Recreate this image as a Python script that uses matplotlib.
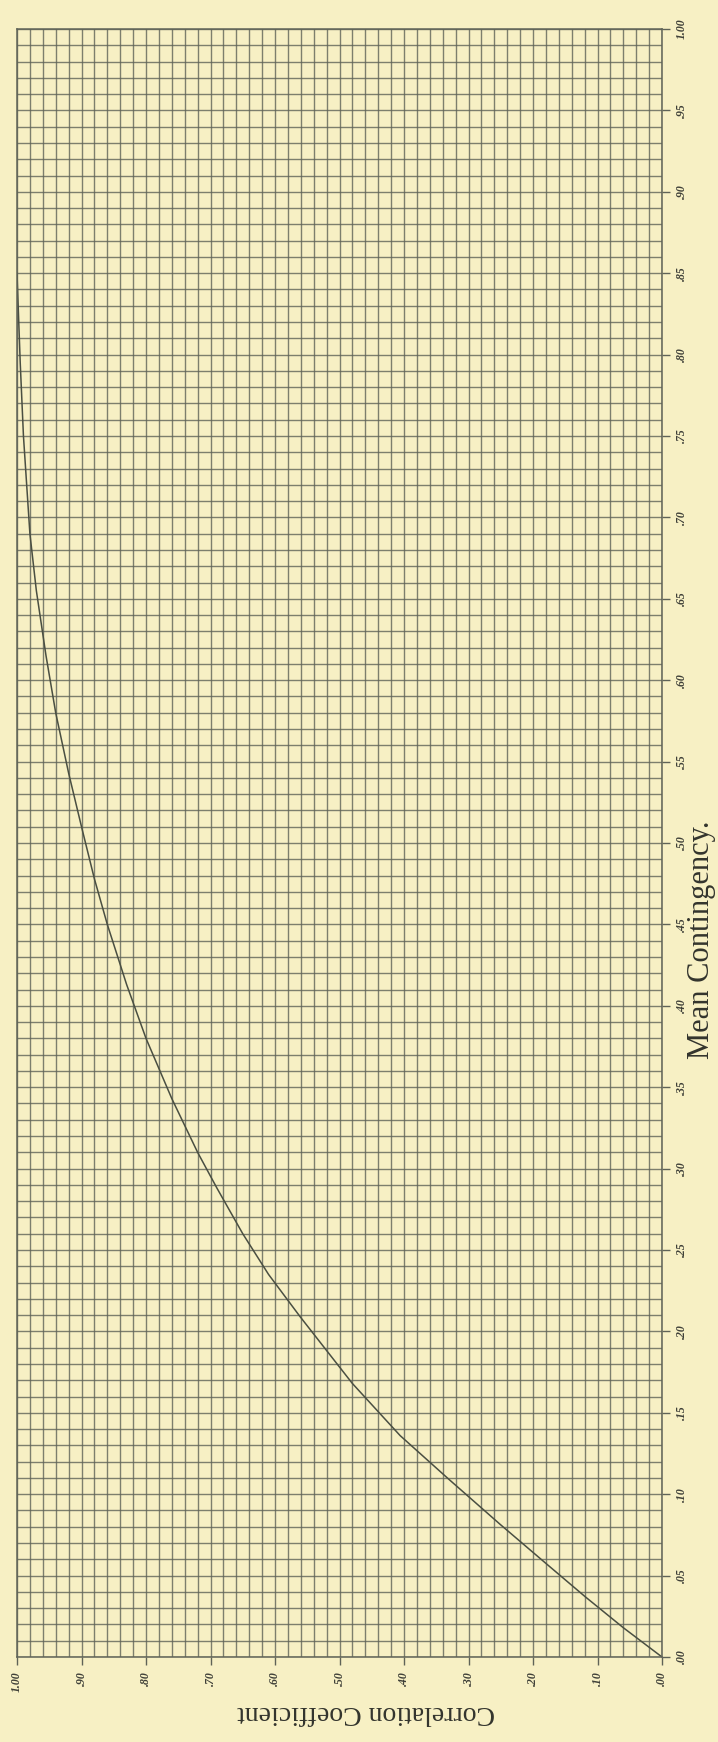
import numpy as np
import matplotlib.pyplot as plt

# correlation coefficient r against Pearson's mean contingency
corr = [0.000, 0.060, 0.119, 0.180, 0.251, 0.330, 0.406, 0.480, 0.561, 0.610, 0.650,
        0.690, 0.720, 0.760, 0.800, 0.830, 0.860, 0.880, 0.900, 0.920, 0.940, 0.955,
        0.970, 0.980, 0.990, 0.995, 1.000]
cont = [0.000, 0.018, 0.037, 0.0575, 0.0815, 0.109, 0.136, 0.168, 0.209, 0.235, 0.260,
        0.288, 0.310, 0.343, 0.380, 0.413, 0.450, 0.478, 0.510, 0.543, 0.580, 0.615,
        0.655, 0.690, 0.750, 0.795, 0.850]

corr_ticks = [1.0, 0.9, 0.8, 0.7, 0.6, 0.5, 0.4, 0.3, 0.2, 0.1, 0.0]
corr_labels = ["1.00", ".90", ".80", ".70", ".60", ".50", ".40", ".30", ".20", ".10", ".00"]
cont_ticks = [1.0, 0.95, 0.9, 0.85, 0.8, 0.75, 0.7, 0.65, 0.6, 0.55, 0.5,
              0.45, 0.4, 0.35, 0.3, 0.25, 0.2, 0.15, 0.1, 0.05, 0.0]
cont_labels = ["1.00", ".95", ".90", ".85", ".80", ".75", ".70", ".65", ".60", ".55", ".50",
               ".45", ".40", ".35", ".30", ".25", ".20", ".15", ".10", ".05", ".00"]

paper = "#f7f0c4"
ink = "#5f6357"

W, H = 718, 1742
fig = plt.figure(figsize=(W / 100, H / 100), dpi=100)
fig.patch.set_facecolor(paper)

x0, x1, y0, y1 = 17, 662, 29, 1657
ax = fig.add_axes([x0 / W, 1 - y1 / H, (x1 - x0) / W, (y1 - y0) / H])
ax.set_facecolor(paper)
ax.set_xlim(1, 0)
ax.set_ylim(0, 1)

# fine ruling: .02 across, .01 up
ax.set_xticks(np.linspace(0, 1, 51), minor=True)
ax.set_yticks(np.linspace(0, 1, 101), minor=True)
ax.grid(which="both", color=ink, lw=1.0, alpha=0.8)
ax.tick_params(which="minor", length=0)

lab_font = dict(family="Liberation Serif", style="italic", weight="bold", size=8.5, color="#3f4038")
ax.set_xticks(corr_ticks)
ax.set_xticklabels(corr_labels, rotation=90, **lab_font)
ax.yaxis.tick_right()
ax.set_yticks(cont_ticks)
ax.set_yticklabels(cont_labels, rotation=90, va="center", **lab_font)
ax.tick_params(which="major", direction="out", length=6, width=1.0, color=ink, pad=4)

for s in ax.spines.values():
    s.set_color(ink)
    s.set_linewidth(1.1)

ax.plot(corr, cont, color="#4a4f42", lw=1.1)

fig.text(702 / W, 1 - 940 / H, "Mean Contingency.", rotation=90, ha="center", va="center",
         family="Liberation Serif", size=22, color="#33342d")
fig.text(366 / W, 1 - 1712 / H, "Correlation Coefficient", rotation=180, ha="center", va="center",
         family="Liberation Serif", size=20, color="#33342d")

fig.savefig("out.png", dpi=100, facecolor=paper)
